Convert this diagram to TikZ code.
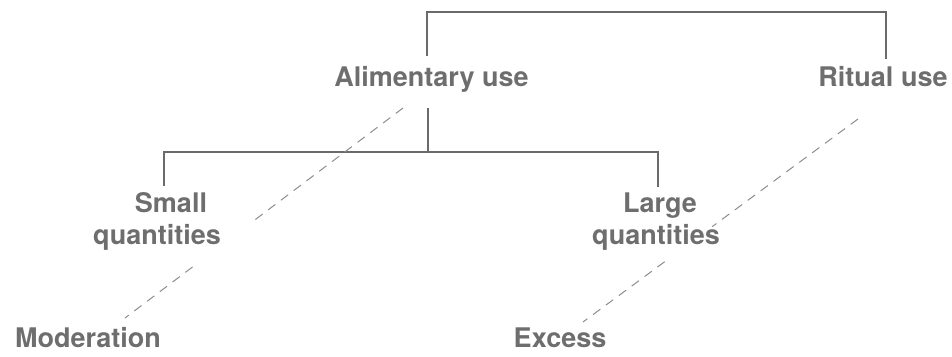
\documentclass[tikz,border=0pt]{standalone}
\usepackage{fontspec}
\setmainfont{TeX Gyre Heros}
\usetikzlibrary{calc}
\definecolor{txt}{HTML}{6E6E6E}
\definecolor{ln}{HTML}{6A6A6A}
\definecolor{dsh}{HTML}{8C8C8C}
\begin{document}
\begin{tikzpicture}[x=1pt,y=-1pt,
  lbl/.style={anchor=base, inner sep=0pt, font=\fontsize{27}{32}\selectfont\bfseries, text=txt},
  tree/.style={draw=ln, line width=1.1pt},
  dashline/.style={draw=dsh, line width=1pt, dash pattern=on 9pt off 7pt}]
\useasboundingbox (0,0) rectangle (952,356);
% labels
\node[lbl] (alim)   at (431.5,86) {Alimentary use};
\node[lbl] (ritual) at (883,86)   {Ritual use};
\node[lbl] (small)  at (171,212)  {Small};
\node[lbl] (smallq) at (157,244)  {quantities};
\node[lbl] (large)  at (660,212)  {Large};
\node[lbl] (largeq) at (656,244)  {quantities};
\node[lbl] (mod)    at (88,347)   {Moderation};
\node[lbl] (exc)    at (560,347)  {Excess};
% junctions
\coordinate (tl) at (427,12);
\coordinate (tr) at (886,12);
\coordinate (bm) at (428,152);
\coordinate (bl) at (164,152);
\coordinate (br) at (658,152);
\coordinate (aN) at ([yshift=9.5pt]alim.north);
\coordinate (aS) at ([yshift=-16pt]alim.south);
\coordinate (rN) at ([yshift=7pt]ritual.north);
\coordinate (sN) at ([yshift=6pt]small.north);
\coordinate (lN) at ([yshift=5pt]large.north);
\draw[tree] (aN -| tl) -- (tl) -- (tr) -- (rN -| tr);
\draw[tree] (aS -| bm) -- (bm);
\draw[tree] (sN -| bl) -- (bl) -- (br) -- (lN -| br);
% dashed lines
\coordinate (d1s) at (403,108);
\coordinate (d1e) at (125,318);
\coordinate (d2s) at (858,119);
\coordinate (d2e) at (583,322);
\draw[dashline] (d1s) -- ($(d1s)!0.543!(d1e)$) ($(d1s)!0.757!(d1e)$) -- (d1e);
\draw[dashline] (d2s) -- ($(d2s)!0.53!(d2e)$) ($(d2s)!0.703!(d2e)$) -- (d2e);
\end{tikzpicture}
\end{document}
